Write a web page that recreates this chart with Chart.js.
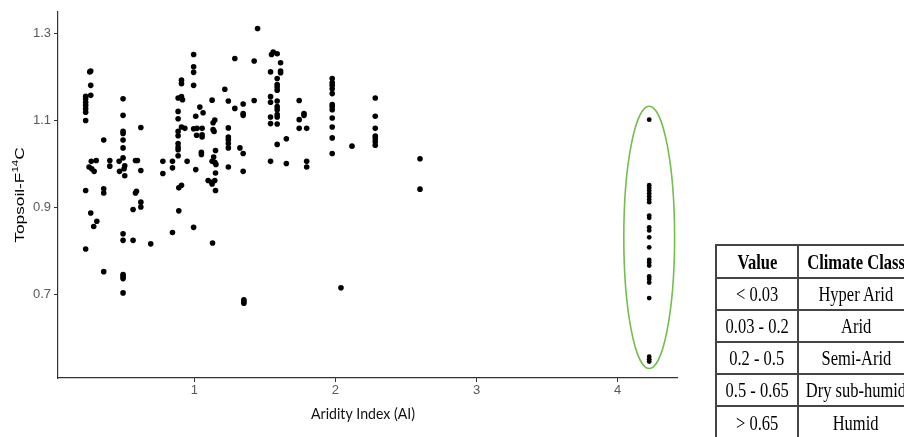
<!DOCTYPE html>
<html>
<head>
<meta charset="utf-8">
<script src="https://cdn.jsdelivr.net/npm/chart.js@4.4.1/dist/chart.umd.min.js"></script>
<style>
  html, body { margin: 0; padding: 0; background: #fff; overflow: hidden; }
  #wrap { position: relative; width: 904px; height: 437px; overflow: hidden; }
  #plot { position: absolute; left: 0; top: 0; }
  .cell { position: absolute; box-sizing: border-box; display: flex; align-items: center; justify-content: center;
          border-top: 2px solid #444; border-left: 2px solid #444;
          font-family: "Liberation Serif", "DejaVu Serif", serif; font-size: 22px; color: #000; white-space: nowrap; }
  .cell span { display: inline-block; transform: scaleX(0.75); transform-origin: center; }
  .head { font-weight: bold; }
</style>
</head>
<body>
<div id="wrap">
  <canvas id="plot" width="904" height="437"></canvas>
</div>
<script>
// Aridity index of each sampling column and the topsoil F14C values measured at it
const aiColumns = [
  0.23, 0.266, 0.259, 0.273, 0.27, 0.254, 0.29, 0.305, 0.287, 0.309,
  0.358, 0.401, 0.467, 0.47, 0.495, 0.507, 0.502, 0.566, 0.583, 0.597,
  0.59, 0.621, 0.691, 0.777, 0.845, 0.885, 0.89, 0.909, 0.916, 0.933,
  0.949, 0.995, 1.01, 1.016, 1.019, 1.039, 1.055, 1.05, 1.062, 1.098,
  1.122, 1.126, 1.133, 1.14, 1.145, 1.137, 1.15, 1.153, 1.129, 1.216,
  1.241, 1.287, 1.323, 1.346, 1.351, 1.424, 1.448, 1.54, 1.547, 1.559,
  1.587, 1.611, 1.652, 1.743, 1.777, 1.796, 1.977, 2.039, 2.117, 2.282,
  2.599
];
const f14cByColumn = [
  [1.156, 1.150, 1.142, 1.135, 1.127, 1.119, 1.100, 0.939, 0.804],
  [1.214, 1.181, 1.158, 0.887],
  [1.212], [0.989], [1.006], [0.993], [0.983], [1.008], [0.856], [0.868],
  [1.055, 0.943, 0.933, 0.752],
  [1.008, 0.995],
  [1.006], [0.983],
  [1.150, 1.112, 1.075, 1.070, 1.055, 1.037, 1.014, 0.839, 0.824, 0.745, 0.741, 0.736, 0.703],
  [0.996, 0.973], [0.989],
  [0.895, 0.824],
  [1.008, 0.933], [1.008], [0.937],
  [1.084, 0.985, 0.912, 0.901],
  [0.816],
  [1.006, 0.978],
  [1.006, 0.991, 0.842],
  [1.152, 1.121, 1.104, 1.075, 1.065, 1.047, 1.039, 1.033, 1.019],
  [0.892, 0.945],
  [1.193, 1.185, 1.155, 1.085, 0.951],
  [1.148], [1.082], [1.006],
  [1.252, 1.224, 1.211, 1.181, 1.081, 0.854],
  [1.110, 0.987], [1.066], [1.082], [1.131],
  [1.082, 1.067, 1.062], [1.027, 1.022], [1.118], [0.962],
  [0.958], [1.147, 1.006, 0.954], [1.095, 1.079], [1.075],
  [1.101, 1.004, 0.962], [1.016], [1.031, 0.979, 0.939], [0.999], [0.818],
  [1.172],
  [1.145, 1.083, 1.062, 1.056, 1.047, 1.037, 0.993],
  [1.243, 1.128], [1.037],
  [1.138, 1.116, 1.112, 1.024, 0.983],
  [0.687, 0.683, 0.679],
  [1.237, 1.146], [1.312],
  [1.212, 1.155, 1.142, 1.108, 1.093, 1.006], [1.252], [1.258],
  [1.254, 1.197, 1.183, 1.177, 1.170, 1.145, 1.132, 1.125, 1.114, 1.108, 1.092, 1.045],
  [1.233, 1.214, 1.210],
  [1.058, 1.001],
  [1.146, 1.102, 1.082], [1.116, 1.112], [1.082, 1.006, 0.993],
  [1.197, 1.187, 1.181, 1.173, 1.162, 1.137, 1.132, 1.125, 1.106, 1.085, 1.060, 1.024],
  [0.715], [1.041],
  [1.152, 1.110, 1.082, 1.064, 1.058, 1.051, 1.043],
  [1.012, 0.942]
];

// Humid sites (highest aridity index), circled on the plot
const humidAI = 4.223;
const humidF14C = [1.102, 0.951, 0.945, 0.939, 0.932, 0.925, 0.918, 0.912, 0.881, 0.876,
                   0.854, 0.847, 0.831, 0.808, 0.779, 0.773, 0.766, 0.741, 0.735, 0.727,
                   0.691, 0.556, 0.550, 0.545];

const xTickValues = [1, 2, 3, 4];
const yTickValues = [0.7, 0.9, 1.1, 1.3];

// Aridity classes table
const classRanges = ["< 0.03", "0.03 - 0.2", "0.2 - 0.5", "0.5 - 0.65", "> 0.65"];
const classNames = ["Hyper Arid", "Arid", "Semi-Arid", "Dry sub-humid", "Humid"];

const sitePoints = aiColumns.flatMap((ai, i) => f14cByColumn[i].map(v => ({ x: ai, y: v })));
const humidPoints = humidF14C.map(v => ({ x: humidAI, y: v }));

// green ring around the humid group, in data units
const ringPlugin = {
  id: 'humidRing',
  afterDatasetsDraw(chart) {
    const { ctx, scales: { x, y } } = chart;
    const cx = x.getPixelForValue(humidAI);
    const cy = y.getPixelForValue(0.831);
    const rx = Math.abs(x.getPixelForValue(humidAI + 0.18) - cx);
    const ry = Math.abs(y.getPixelForValue(0.831 + 0.302) - cy);
    ctx.save();
    ctx.beginPath();
    ctx.ellipse(cx, cy, rx, ry, 0, 0, Math.PI * 2);
    ctx.strokeStyle = '#72bf4c';
    ctx.lineWidth = 1.6;
    ctx.stroke();
    ctx.restore();
  }
};

// axis titles (y title carries a superscript)
const titlePlugin = {
  id: 'axisTitles',
  afterDraw(chart) {
    const { ctx, chartArea } = chart;
    ctx.save();
    // y title
    const yMid = (chartArea.top + chartArea.bottom) / 2;
    ctx.translate(20, yMid);
    ctx.scale(1, 1.28);
    ctx.rotate(-Math.PI / 2);
    ctx.fillStyle = '#000';
    ctx.textBaseline = 'middle';
    const big = '13.5px "Liberation Sans", Arial, sans-serif';
    const small = '9px "Liberation Sans", Arial, sans-serif';
    ctx.font = big;
    const w1 = ctx.measureText('Topsoil-F').width;
    const w3 = ctx.measureText('C').width;
    ctx.font = small;
    const w2 = ctx.measureText('14').width;
    let sx = -(w1 + w2 + w3) / 2;
    ctx.font = big;
    ctx.fillText('Topsoil-F', sx, 0);
    ctx.font = small;
    ctx.fillText('14', sx + w1, -4);
    ctx.font = big;
    ctx.fillText('C', sx + w1 + w2, 0);
    ctx.restore();

    // x title
    ctx.save();
    ctx.font = '15px Lato, "Open Sans", sans-serif';
    const tw = ctx.measureText('Aridity Index (AI)').width;
    ctx.translate(363, 414);
    ctx.scale(104 / tw, 1);
    ctx.fillStyle = '#111';
    ctx.textAlign = 'center';
    ctx.textBaseline = 'middle';
    ctx.fillText('Aridity Index (AI)', 0, 0);
    ctx.restore();
  }
};

const tickFont = { family: '"Liberation Sans", Arial, sans-serif', size: 13 };

new Chart(document.getElementById('plot'), {
  type: 'scatter',
  data: {
    datasets: [
      { data: sitePoints, backgroundColor: '#000', borderWidth: 0, pointRadius: 2.8 },
      { data: humidPoints, backgroundColor: '#000', borderWidth: 0, pointRadius: 2.4 }
    ]
  },
  options: {
    responsive: false,
    animation: false,
    devicePixelRatio: 1,
    layout: { padding: { left: 0, right: 227, top: 12, bottom: 0 } },
    plugins: { legend: { display: false }, tooltip: { enabled: false } },
    scales: {
      x: {
        type: 'linear', min: 0.034, max: 4.42,
        afterFit(s) { s.height = 59; },
        afterBuildTicks(s) { s.ticks = xTickValues.map(v => ({ value: v })); },
        grid: { drawOnChartArea: false, drawTicks: true, tickLength: 4, color: '#333', lineWidth: 1 },
        border: { display: true, color: '#333', width: 1.2 },
        ticks: { color: '#595959', font: tickFont, padding: 1, maxRotation: 0 }
      },
      y: {
        type: 'linear', min: 0.507, max: 1.35,
        afterFit(s) { s.width = 58; },
        afterBuildTicks(s) { s.ticks = yTickValues.map(v => ({ value: v })); },
        grid: { drawOnChartArea: false, drawTicks: true, tickLength: 4, color: '#333', lineWidth: 1 },
        border: { display: true, color: '#333', width: 1.2 },
        ticks: { color: '#595959', font: tickFont, padding: 3, callback: v => v.toFixed(1) }
      }
    }
  },
  plugins: [ringPlugin, titlePlugin]
});

// climate class table
const wrap = document.getElementById('wrap');
const colLeft = [715, 797];
const colWidth = [82, 116];
const rowTop = [244, 277, 309, 341, 373, 405];
const rowHeight = [33, 32, 32, 32, 32, 40];
function addCell(text, col, row, bold) {
  const d = document.createElement('div');
  d.className = 'cell' + (bold ? ' head' : '');
  d.style.left = colLeft[col] + 'px';
  d.style.top = rowTop[row] + 'px';
  d.style.width = colWidth[col] + 'px';
  d.style.height = rowHeight[row] + 'px';
  if (row === 5) d.style.alignItems = 'flex-start';
  const s = document.createElement('span');
  s.textContent = text;
  if (row === 5) s.style.marginTop = '3px';
  d.appendChild(s);
  wrap.appendChild(d);
}
addCell('Value', 0, 0, true);
addCell('Climate Class', 1, 0, true);
classRanges.forEach((r, i) => addCell(r, 0, i + 1, false));
classNames.forEach((n, i) => addCell(n, 1, i + 1, false));
</script>
</body>
</html>
